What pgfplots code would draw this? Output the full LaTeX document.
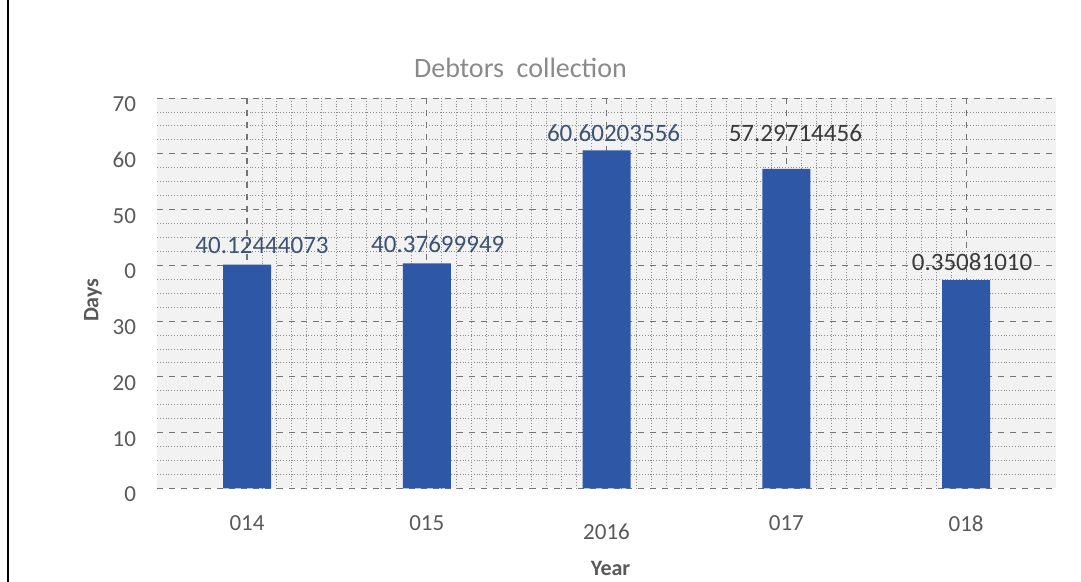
\documentclass[border=0pt]{standalone}
\usepackage{fontspec}
\setmainfont{Carlito}
\usepackage{pgfplots}
\usepackage{pgfplotstable}
\pgfplotsset{compat=1.18}

\definecolor{barblue}{HTML}{2E58A6}
\definecolor{labblue}{HTML}{3E5272}
\definecolor{labgray}{HTML}{3A3A3A}
\definecolor{tickgray}{HTML}{595959}
\definecolor{titlegray}{HTML}{8A8A8A}

% x, value, printed label, label offsets (pt)
\pgfplotstableread{
x y lab dx dy
0 40.12444073 40.12444073 7.5 2
1 40.37699949 40.37699949 5.5 2
2 60.60203556 60.60203556 3.5 1
}\debtorsA
\pgfplotstableread{
x y lab dx dy
3 57.29714456 57.29714456 4.5 10
4 37.35081010 0.35081010 3 1
}\debtorsB

\begin{document}
\begin{tikzpicture}
\begin{axis}[
    at={(0,0)}, anchor=south west,
    scale only axis,
    width=449pt, height=195pt,
    ybar, bar width=24pt, bar shift=0pt,
    xmin=-0.5, xmax=4.5,
    ymin=0, ymax=70,
    xtick={0,1,2,3,4},
    xticklabels={014,015,\raisebox{-4pt}[\height]{2016},017,018},
    ytick={0,10,20,30,40,50,60,70},
    yticklabels={0,10,20,30,0,50,60,70},
    minor x tick num=11,
    minor y tick num=3,
    grid=both,
    major grid style={black!55, dashed, line width=0.55pt},
    minor grid style={black!45, densely dotted, line width=0.5pt},
    axis background/.style={fill=gray!10},
    axis line style={draw=none},
    major tick length=0pt, minor tick length=0pt,
    /pgf/number format/assume math mode=true,
    tick label style={font=\fontsize{11.5}{13}\selectfont, text=tickgray},
    xticklabel style={yshift=-10pt},
    yticklabel style={xshift=-7pt, yshift=-3pt},
    nodes near coords,
    point meta=explicit symbolic,
    visualization depends on={\thisrow{dx} \as \ldx},
    visualization depends on={\thisrow{dy} \as \ldy},
    nodes near coords style={font=\fontsize{12.5}{14}\selectfont, anchor=south,
        xshift=\ldx pt, yshift=\ldy pt},
]
\addplot[fill=barblue, draw=none, nodes near coords style={text=labblue}]
    table[x=x, y=y, meta=lab] {\debtorsA};
\addplot[fill=barblue, draw=none, nodes near coords style={text=labgray}]
    table[x=x, y=y, meta=lab] {\debtorsB};
\end{axis}
\node[font=\fontsize{14}{16}\selectfont, text=titlegray] at (181.5pt,210pt) {Debtors\ \ collection};
\node[font=\bfseries\fontsize{11}{13}\selectfont, text=tickgray] at (226.5pt,-40pt) {Year};
\node[font=\bfseries\fontsize{11}{13}\selectfont, text=tickgray, rotate=90] at (-32pt,94pt) {Days};
\draw[black, line width=1.2pt] (-74.5pt,-46.5pt) -- (-74.5pt,244pt);
\pgfresetboundingbox
\path (-78.5pt,-46.5pt) rectangle (461.5pt,244pt);
\end{tikzpicture}
\end{document}
